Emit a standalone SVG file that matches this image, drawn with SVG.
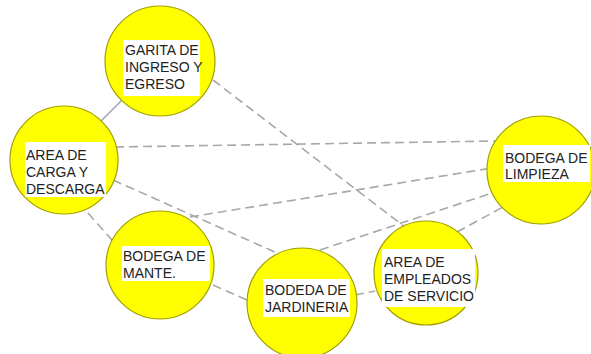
<svg xmlns="http://www.w3.org/2000/svg" width="591" height="354" viewBox="0 0 591 354">
<style>
.c{fill:#ffff00;stroke:#a0a000;stroke-width:1.2}
.b{fill:#ffffff}
.t{font-family:"Liberation Sans",Arial,sans-serif;font-size:14px;fill:#222222}
.d{stroke:#a8a8a8;stroke-width:1.6;stroke-dasharray:9 5;fill:none}
.s{stroke:#9aa0b8;stroke-width:1.4;fill:none}
</style>
<rect width="591" height="354" fill="#ffffff"/>
<g id="connectors">
<line class="s" x1="122" y1="100" x2="100" y2="122"/>
<line class="d" x1="213" y1="80" x2="405" y2="227"/>
<line class="d" x1="115" y1="147" x2="495" y2="141"/>
<line class="d" x1="113" y1="180" x2="277" y2="253"/>
<line class="d" x1="88" y1="213" x2="112" y2="240"/>
<line class="d" x1="190" y1="217" x2="492" y2="168"/>
<line class="d" x1="213" y1="285" x2="247" y2="300"/>
<line class="d" x1="320" y1="250" x2="492" y2="193"/>
<line class="d" x1="457" y1="232" x2="503" y2="207"/>
<line class="d" x1="355" y1="295" x2="375" y2="291"/>
</g>
<g id="garita">
<circle class="c" cx="160" cy="61" r="55"/>
<rect class="b" x="123" y="40" width="77" height="56"/>
<text class="t" x="125" y="55">GARITA DE</text>
<text class="t" x="125" y="72">INGRESO Y</text>
<text class="t" x="125" y="89">EGRESO</text>
</g>
<g id="carga">
<circle class="c" cx="64" cy="160" r="54"/>
<rect class="b" x="25" y="142" width="81" height="55"/>
<text class="t" x="26" y="160">AREA DE</text>
<text class="t" x="26" y="177">CARGA Y</text>
<text class="t" x="26" y="194">DESCARGA</text>
</g>
<g id="limpieza">
<circle class="c" cx="541" cy="170" r="54"/>
<rect class="b" x="503" y="145" width="87" height="37"/>
<text class="t" x="505" y="163">BODEGA DE</text>
<text class="t" x="505" y="179">LIMPIEZA</text>
</g>
<g id="mante">
<circle class="c" cx="160" cy="265" r="54"/>
<rect class="b" x="122" y="246" width="88" height="35"/>
<text class="t" x="123" y="261">BODEGA DE</text>
<text class="t" x="123" y="278">MANTE.</text>
</g>
<g id="jardineria">
<circle class="c" cx="302" cy="303" r="55"/>
<rect class="b" x="263" y="279" width="87" height="38"/>
<text class="t" x="265" y="295">BODEDA DE</text>
<text class="t" x="265" y="312">JARDINERIA</text>
</g>
<g id="empleados">
<circle class="c" cx="426" cy="273" r="52"/>
<rect class="b" x="382" y="249" width="93" height="58"/>
<text class="t" x="384" y="267">AREA DE</text>
<text class="t" x="384" y="284">EMPLEADOS</text>
<text class="t" x="384" y="301">DE SERVICIO</text>
</g>
</svg>
